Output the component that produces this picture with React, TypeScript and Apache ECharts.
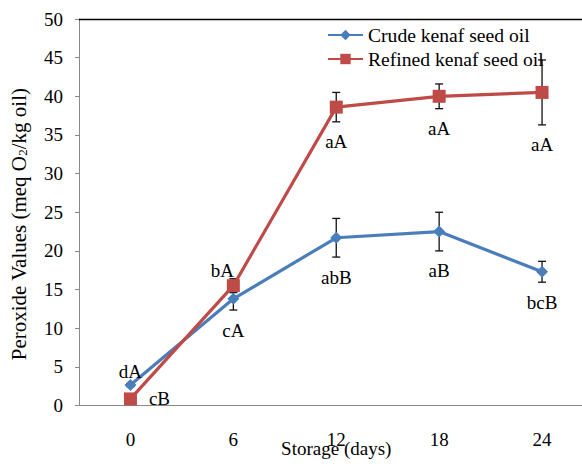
import React, { useEffect, useRef } from "react";
import * as echarts from "echarts";

const days = ["0", "6", "12", "18", "24"];
const crudeMean = [2.65, 13.8, 21.7, 22.5, 17.3];
const crudeErr = [0.2, 1.45, 2.5, 2.5, 1.35];
const refinedMean = [0.85, 15.5, 38.6, 40.0, 40.5];
const refinedErr = [0.2, 0.9, 1.9, 1.6, 4.2];
const crudeLetters = ["dA", "cA", "abB", "aB", "bcB"];
const refinedLetters = ["cB", "bA", "aA", "aA", "aA"];
const crudePlace = ["above", "below", "below", "below", "below"];
const refinedPlace = ["right", "aboveLeft", "below", "below", "below"];
const yTicks = { min: 0, max: 50, interval: 5 };

const BLUE = "#4A7EBB";
const RED = "#BE4B48";
const FONT = '"Liberation Serif", "Times New Roman", serif';
const FS = 19;

function errSeries(means: number[], errs: number[]) {
  return {
    type: "custom",
    z: 1,
    silent: true,
    clip: false,
    data: means.map((m, i) => [i, m, errs[i]]),
    encode: { x: 0, y: 1 },
    renderItem: (params: any, api: any) => {
      const i = api.value(0);
      const m = api.value(1);
      const e = api.value(2);
      const top = api.coord([i, m + e]);
      const bot = api.coord([i, m - e]);
      const w = 4;
      const st = { stroke: "#111", lineWidth: 1.3 };
      return {
        type: "group",
        children: [
          { type: "line", shape: { x1: top[0], y1: top[1], x2: bot[0], y2: bot[1] }, style: st },
          { type: "line", shape: { x1: top[0] - w, y1: top[1], x2: top[0] + w, y2: top[1] }, style: st },
          { type: "line", shape: { x1: bot[0] - w, y1: bot[1], x2: bot[0] + w, y2: bot[1] }, style: st },
        ],
      };
    },
  };
}

function labelSeries(means: number[], errs: number[], letters: string[], place: string[]) {
  return {
    type: "custom",
    z: 5,
    silent: true,
    clip: false,
    data: means.map((m, i) => [i, m, errs[i]]),
    encode: { x: 0, y: 1 },
    renderItem: (params: any, api: any) => {
      const idx = params.dataIndex;
      const i = api.value(0);
      const m = api.value(1);
      const e = api.value(2);
      const p = api.coord([i, m]);
      const lo = api.coord([i, m - e]);
      let x = p[0];
      let y = p[1];
      const mode = place[idx];
      if (mode === "below") y = lo[1] + 20;
      else if (mode === "above") y = p[1] - 14;
      else if (mode === "aboveLeft") { x = p[0] - 11; y = p[1] - 15; }
      else if (mode === "right") { x = p[0] + 29; }
      return {
        type: "text",
        x,
        y,
        style: {
          text: letters[idx],
          fill: "#000",
          font: `${FS}px ${FONT}`,
          align: "center",
          verticalAlign: "middle",
        },
      };
    },
  };
}

export default function App() {
  const ref = useRef<HTMLDivElement>(null);
  useEffect(() => {
    const chart = echarts.init(ref.current!, null, { renderer: "svg" });
    chart.setOption({
      animation: false,
      backgroundColor: "#fff",
      textStyle: { fontFamily: FONT, color: "#000" },
      grid: {
        left: 79,
        top: 19,
        bottom: 60.5,
        right: -11.5,
        containLabel: false,
        outerBoundsMode: "none",
      },
      legend: {
        orient: "vertical",
        left: 327,
        top: 25,
        padding: 0,
        itemWidth: 35,
        itemHeight: 13,
        itemGap: 4,
        textStyle: { fontFamily: FONT, fontSize: 19.6, color: "#000" },
        data: ["Crude kenaf seed oil", "Refined kenaf seed oil"],
      },
      xAxis: [
        {
          type: "category",
          data: days,
          boundaryGap: true,
          name: "Storage (days)",
          nameLocation: "middle",
          nameGap: 33,
          nameMoveOverlap: false,
          nameTextStyle: { fontFamily: FONT, fontSize: FS, color: "#000" },
          axisLine: { lineStyle: { color: "#888", width: 1 } },
          axisTick: { alignWithLabel: true, inside: true, length: 5, lineStyle: { color: "#888" } },
          axisLabel: { fontFamily: FONT, fontSize: FS, color: "#000", margin: 24 },
          splitLine: { show: false },
        },
        {
          type: "category",
          data: days,
          position: "top",
          axisLine: { lineStyle: { color: "#000", width: 1.3 } },
          axisTick: { show: false },
          axisLabel: { show: false },
          splitLine: { show: false },
        },
      ],
      yAxis: {
        type: "value",
        min: yTicks.min,
        max: yTicks.max,
        interval: yTicks.interval,
        name: "Peroxide Values (meq O{sub|2}/kg oil)",
        nameLocation: "middle",
        nameGap: 50,
        nameRotate: 90,
        nameMoveOverlap: false,
        nameTextStyle: {
          fontFamily: FONT,
          fontSize: 21,
          color: "#000",
          padding: [0, 24, 0, 0],
          rich: {
            sub: { fontFamily: FONT, fontSize: 13, color: "#000", verticalAlign: "bottom", padding: [8, 0, 0, 0] },
          },
        },
        axisLine: { show: true, lineStyle: { color: "#888", width: 1 } },
        axisTick: { show: true, length: 4, lineStyle: { color: "#888" } },
        axisLabel: { fontFamily: FONT, fontSize: FS, color: "#000", margin: 16 },
        splitLine: { show: false },
      },
      series: [
        errSeries(crudeMean, crudeErr),
        errSeries(refinedMean, refinedErr),
        {
          name: "Crude kenaf seed oil",
          type: "line",
          z: 3,
          data: crudeMean,
          symbol: "diamond",
          symbolSize: 12,
          color: BLUE,
          lineStyle: { color: BLUE, width: 3.2 },
          itemStyle: { color: BLUE },
        },
        {
          name: "Refined kenaf seed oil",
          type: "line",
          z: 4,
          data: refinedMean,
          symbol: "rect",
          symbolSize: 13,
          color: RED,
          lineStyle: { color: RED, width: 3.2 },
          itemStyle: { color: RED },
        },
        labelSeries(crudeMean, crudeErr, crudeLetters, crudePlace),
        labelSeries(refinedMean, refinedErr, refinedLetters, refinedPlace),
      ],
    });
    return () => chart.dispose();
  }, []);
  return (
    <div
      ref={ref}
      style={{ position: "fixed", left: 0, top: 0, width: 582, height: 466, background: "#fff" }}
    />
  );
}
